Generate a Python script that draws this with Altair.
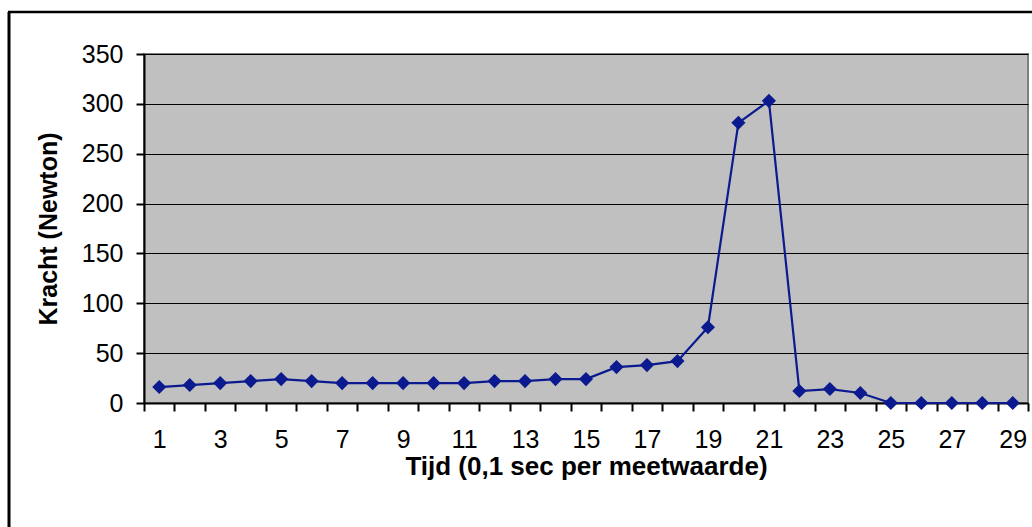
import altair as alt
import pandas as pd

tijd = list(range(1, 30))
kracht = [16, 18, 20, 22, 24, 22, 20, 20, 20, 20, 20, 22, 22, 24, 24,
          36, 38, 42, 76, 281, 303, 12, 14, 10, 0, 0, 0, 0, 0]
y_ticks = [0, 50, 100, 150, 200, 250, 300, 350]

df = pd.DataFrame({"tijd": tijd, "kracht": kracht})

FONT = "Liberation Sans"
NAVY = "#0B1A8E"

x_enc = alt.X(
    "tijd:O",
    scale=alt.Scale(paddingInner=0, paddingOuter=0),
    axis=alt.Axis(
        title="Tijd (0,1 sec per meetwaarde)",
        titleFontSize=26,
        labelAngle=0,
        labelExpr="datum.value % 2 == 1 ? datum.label : ''",
        tickBand="extent",
        tickSize=8,
        tickColor="black",
        tickWidth=2,
        domainColor="black",
        domainWidth=2,
        labelPadding=16,
        titlePadding=1,
        grid=False,
    ),
)
y_enc = alt.Y(
    "kracht:Q",
    scale=alt.Scale(domain=[0, 350], nice=False),
    axis=alt.Axis(
        title="Kracht (Newton)",
        values=y_ticks,
        tickSize=8,
        tickColor="black",
        tickWidth=2,
        domainColor="black",
        domainWidth=2,
        gridColor="black",
        gridWidth=1.2,
        labelPadding=13,
        titlePadding=20,
    ),
)

line = alt.Chart(df).mark_line(color=NAVY, strokeWidth=2.2).encode(x=x_enc, y=y_enc)
pts = alt.Chart(df).mark_point(
    shape="diamond", filled=True, color=NAVY, size=200, opacity=1
).encode(x=x_enc, y=y_enc)

frame_data = alt.Data(values=[{"a": 1}])
frame_v = alt.Chart(frame_data).mark_rule(color="black", strokeWidth=3).encode(
    x=alt.value(-135), y=alt.value(-42), y2=alt.value(700)
)
frame_h = alt.Chart(frame_data).mark_rule(color="black", strokeWidth=2.5).encode(
    x=alt.value(-136), x2=alt.value(1200), y=alt.value(-42)
)

chart = (
    alt.layer(frame_v, frame_h, line, pts)
    .properties(
        width=884,
        height=349,
        autosize=alt.AutoSizeParams(type="none"),
        padding={"left": 144, "top": 54, "right": 4, "bottom": 124},
        background="white",
    )
    .configure_view(fill="#C0C0C0", stroke="#808080", strokeWidth=2)
    .configure_axis(
        labelFont=FONT,
        labelFontSize=25,
        labelColor="black",
        titleFont=FONT,
        titleFontSize=25,
        titleFontWeight="bold",
        titleColor="black",
    )
)

chart.save("out.html", embed_options={"renderer": "svg", "actions": False})
